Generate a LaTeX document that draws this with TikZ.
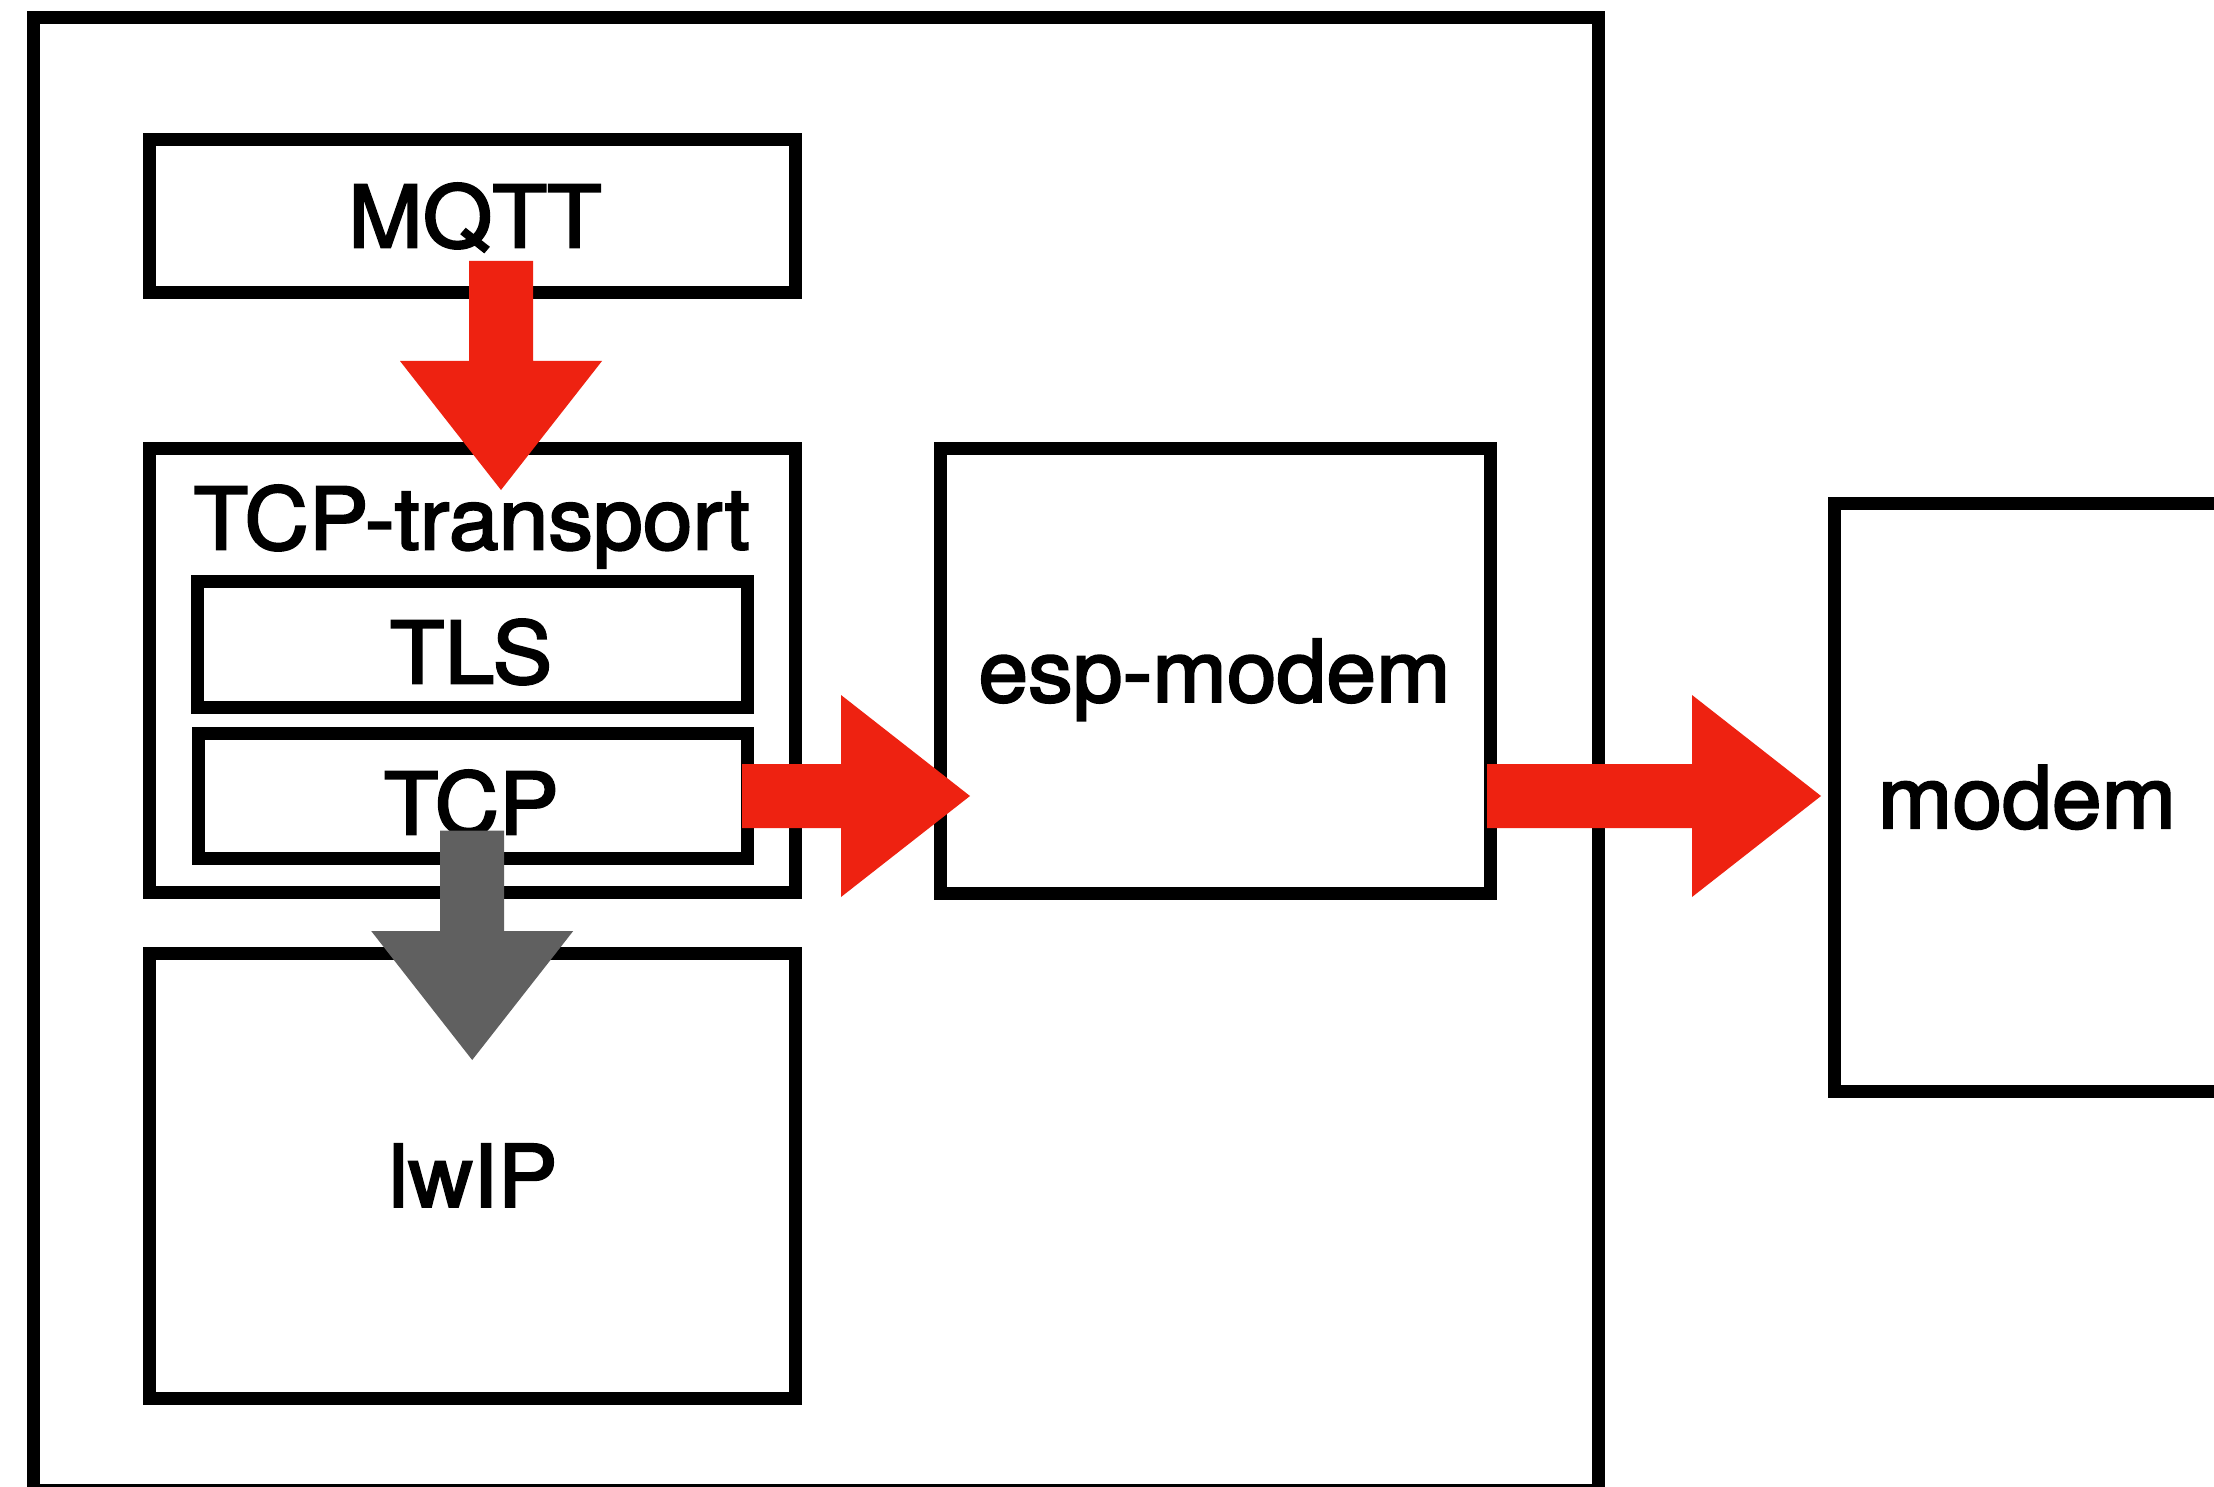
\documentclass[tikz,border=0pt]{standalone}
\usepackage{fontspec}
\setmainfont{TeX Gyre Heros}
\newfontfamily\lblfont{TeX Gyre Heros}[FakeBold=2.5, FakeStretch=1.04]
\usetikzlibrary{calc}
\definecolor{arrowred}{RGB}{238,34,17}
\definecolor{arrowgray}{RGB}{96,96,96}
% vertical (downward) block arrow: style, start, tip
\newcommand\blockdown[3]{%
  \fill[#1] let \p1=(#2), \p2=(#3) in
    ({\x1-32pt},\y1) -- ({\x1+32pt},\y1) -- ({\x1+32pt},{\y2+129pt})
    -- ({\x1+101pt},{\y2+129pt}) -- (\x1,\y2) -- ({\x1-101pt},{\y2+129pt})
    -- ({\x1-32pt},{\y2+129pt}) -- cycle;}
% horizontal (rightward) block arrow: style, start, tip
\newcommand\blockright[3]{%
  \fill[#1] let \p1=(#2), \p2=(#3) in
    (\x1,{\y1+32pt}) -- ({\x2-129pt},{\y1+32pt}) -- ({\x2-129pt},{\y1+101pt})
    -- (\x2,\y1) -- ({\x2-129pt},{\y1-101pt}) -- ({\x2-129pt},{\y1-32pt})
    -- (\x1,{\y1-32pt}) -- cycle;}
\begin{document}
\begin{tikzpicture}[x=1pt,y=-1pt,
  box/.style={draw=black, line width=13pt, rectangle, outer sep=0pt, inner sep=0pt},
  lbl/.style={font=\lblfont\fontsize{86}{100}\selectfont, anchor=base, inner sep=0pt},
  redarrow/.style={fill=arrowred},
  grayarrow/.style={fill=arrowgray}]
\useasboundingbox (0,0) rectangle (2214,1487);
\fill[white] (0,0) rectangle (2214,1487);

% boxes
\node[box, minimum width=1565.5pt, minimum height=1472pt] (outer) at (815.75,754) {};
\node[box, minimum width=646pt, minimum height=153pt] (mqtt) at (472,216.5) {};
\node[box, minimum width=646pt, minimum height=444.5pt] (tcpt) at (472,670.25) {};
\node[box, minimum width=550pt, minimum height=125.8pt] (tls) at (472,644.6) {};
\node[box, minimum width=549pt, minimum height=125.4pt] (tcp) at (472.5,796) {};
\node[box, minimum width=646pt, minimum height=445.2pt] (lwip) at (472,1176) {};
\node[box, minimum width=550pt, minimum height=445pt] (esp) at (1215,670.5) {};
\node[box, minimum width=386pt, minimum height=588.5pt] (modem) at (2027,797.25) {};

% labels
\node[lbl] (mqttlbl) at (475,247.3) {MQTT};
\node[lbl] (tcptlbl) at (471.7,549.3) {TCP-transport};
\node[lbl] (tlslbl) at (471,683.3) {TLS};
\node[lbl] (tcplbl) at (471.3,834.3) {TCP};
\node[lbl] (esplbl) at (1214.5,701.7) {esp-modem};
\node[lbl] (modemlbl) at (2027,828) {modem};
\node[lbl] (lwiplbl) at (473,1206.7) {lwIP};

% connector end points
\coordinate (a1s) at ($(mqtt.south)+(29,-32)$);
\coordinate (a1e) at ($(tcpt.north)+(29,42)$);
\coordinate (a2s) at ($(tcp.east)+(-5,0)$);
\coordinate (a2e) at ($(esp.west)+(30,125.5)$);
\coordinate (a3s) at ($(esp.east)+(-3,125.5)$);
\coordinate (a3e) at ($(modem.west)+(-13,0)$);
\coordinate (a4s) at ($(tcp.south)+(-0.3,-28)$);
\coordinate (a4e) at ($(lwip.north)+(0,106.6)$);

% block arrows
\blockdown{redarrow}{a1s}{a1e}
\blockright{redarrow}{a2s}{a2e}
\blockright{redarrow}{a3s}{a3e}
\blockdown{grayarrow}{a4s}{a4e}
\end{tikzpicture}
\end{document}
